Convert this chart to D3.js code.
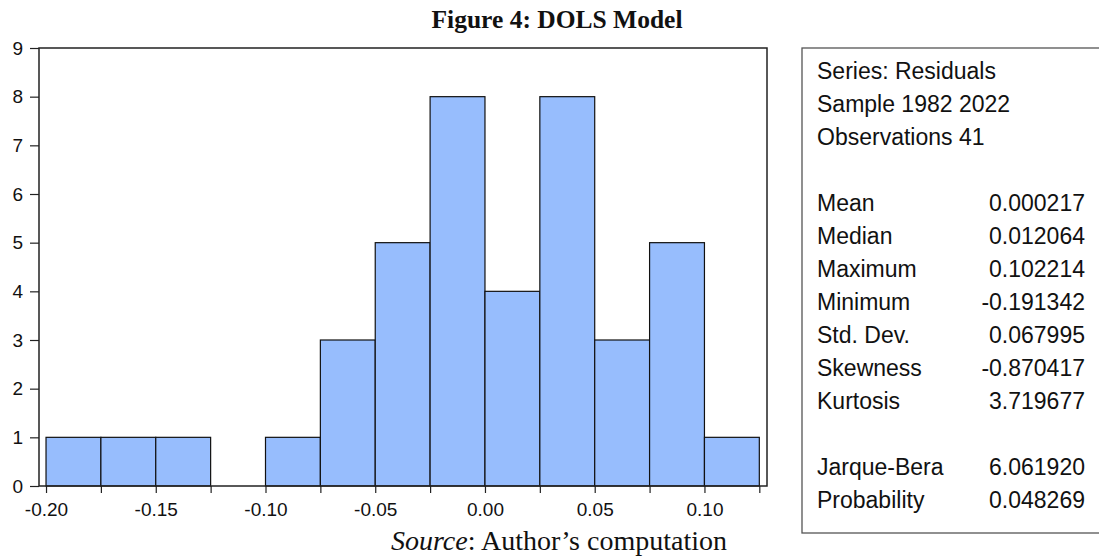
<!DOCTYPE html>
<html>
<head>
<meta charset="utf-8">
<script src="https://cdn.jsdelivr.net/npm/d3@7"></script>
<style>
  body { margin: 0; background: #fff; }
  svg { display: block; }
</style>
</head>
<body>
<svg id="chart" width="1099" height="557"></svg>
<script>
'use strict';

// histogram of residuals, bins are 0.025 wide
var binStarts = [-0.200, -0.175, -0.150, -0.125, -0.100, -0.075, -0.050, -0.025, 0.000, 0.025, 0.050, 0.075, 0.100];
var binCounts = [1, 1, 1, 0, 1, 3, 5, 8, 4, 8, 3, 5, 1];
var binWidth = 0.025;

var xTickLabels = [-0.20, -0.15, -0.10, -0.05, 0.00, 0.05, 0.10];
var yTickLabels = [0, 1, 2, 3, 4, 5, 6, 7, 8, 9];

var headerLines = ['Series: Residuals', 'Sample 1982 2022', 'Observations 41'];
var statNames = ['Mean', 'Median', 'Maximum', 'Minimum', 'Std. Dev.', 'Skewness', 'Kurtosis', 'Jarque-Bera', 'Probability'];
var statValues = ['0.000217', '0.012064', '0.102214', '-0.191342', '0.067995', '-0.870417', '3.719677', '6.061920', '0.048269'];
// which line slot each stat sits on (blank slots between groups)
var statSlots = [4, 5, 6, 7, 8, 9, 10, 12, 13];

var svg = d3.select('#chart');

// plain hyphen for negatives, like the original
var fmt = d3.formatLocale({decimal: '.', thousands: ',', grouping: [3], currency: ['', ''], minus: '-'});

var x = d3.scaleLinear().domain([-0.2032, 0.1285]).range([39, 767]);
var y = d3.scaleLinear().domain([0, 9]).range([486, 48]);

var bins = binStarts.map(function(s, i){
  return {x0: s, x1: s + binWidth, n: binCounts[i]};
});

// bars
svg.append('g')
  .attr('class', 'bars')
  .selectAll('rect')
  .data(bins.filter(function(d){ return d.n > 0; }))
  .enter().append('rect')
  .attr('x', function(d){ return x(d.x0); })
  .attr('y', function(d){ return y(d.n); })
  .attr('width', function(d){ return x(d.x1) - x(d.x0); })
  .attr('height', function(d){ return y(0) - y(d.n); })
  .style('fill', '#97bdfd')
  .style('stroke', '#111')
  .style('stroke-width', 1.2);

// plot frame
svg.append('rect')
  .attr('x', x.range()[0])
  .attr('y', y.range()[1])
  .attr('width', x.range()[1] - x.range()[0])
  .attr('height', y.range()[0] - y.range()[1])
  .style('fill', 'none')
  .style('stroke', '#222')
  .style('stroke-width', 1.5);

// y axis
var yAxis = svg.append('g')
  .attr('transform', 'translate(' + x.range()[0] + ',0)')
  .call(d3.axisLeft(y).tickValues(yTickLabels).tickSize(9).tickPadding(7).tickFormat(fmt.format('d')));
yAxis.select('.domain').remove();

// x axis tick marks at every bin edge
var edges = binStarts.concat([binStarts[binStarts.length - 1] + binWidth]);
var xMarks = svg.append('g')
  .attr('transform', 'translate(0,' + y(0) + ')')
  .call(d3.axisBottom(x).tickValues(edges).tickSize(7).tickFormat(''));
xMarks.select('.domain').remove();

// x axis labels
var xAxis = svg.append('g')
  .attr('transform', 'translate(0,' + y(0) + ')')
  .call(d3.axisBottom(x).tickValues(xTickLabels).tickSize(0).tickPadding(17).tickFormat(fmt.format('.2f')));
xAxis.select('.domain').remove();

svg.selectAll('.tick line').style('stroke', '#222').style('stroke-width', 1.2);
svg.selectAll('.tick text')
  .style('font-family', '"Liberation Sans", Arial, sans-serif')
  .style('font-size', '19px')
  .style('fill', '#111');

// title
svg.append('text')
  .attr('x', 557)
  .attr('y', 28)
  .attr('text-anchor', 'middle')
  .style('font-family', '"Liberation Serif", serif')
  .style('font-weight', 'bold')
  .style('font-size', '25.5px')
  .style('fill', '#111')
  .text('Figure 4: DOLS Model');

// source note
var src = svg.append('text')
  .attr('x', 391)
  .attr('y', 550)
  .style('font-family', '"Liberation Serif", serif')
  .style('font-size', '28px')
  .style('fill', '#111');
src.append('tspan').style('font-style', 'italic').text('Source');
src.append('tspan').text(': Author\u2019s computation');

// statistics box
var box = svg.append('g').attr('class', 'stats');
box.append('rect')
  .attr('x', 802)
  .attr('y', 48)
  .attr('width', 310)
  .attr('height', 485)
  .style('fill', '#fff')
  .style('stroke', '#555')
  .style('stroke-width', 1.3);

var lineY = function(slot){ return 79 + slot * 33; };

box.selectAll('.hdr')
  .data(headerLines)
  .enter().append('text')
  .attr('class', 'hdr')
  .attr('x', 817)
  .attr('y', function(d, i){ return lineY(i); })
  .text(function(d){ return d; });

box.selectAll('.sname')
  .data(statNames)
  .enter().append('text')
  .attr('class', 'sname')
  .attr('x', 817)
  .attr('y', function(d, i){ return lineY(statSlots[i]); })
  .text(function(d){ return d; });

box.selectAll('.sval')
  .data(statValues)
  .enter().append('text')
  .attr('class', 'sval')
  .attr('x', 1085)
  .attr('y', function(d, i){ return lineY(statSlots[i]); })
  .attr('text-anchor', 'end')
  .text(function(d){ return d; });

box.selectAll('text')
  .style('font-family', '"Liberation Sans", Arial, sans-serif')
  .style('font-size', '23px')
  .style('fill', '#111');
</script>
</body>
</html>
